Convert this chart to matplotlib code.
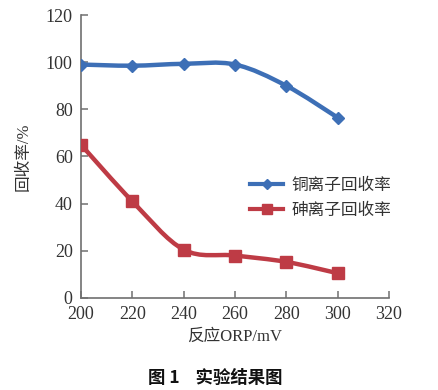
import matplotlib.pyplot as plt
import numpy as np
from matplotlib.path import Path
from matplotlib.patches import PathPatch
from matplotlib.lines import Line2D

# ORP values and recovery rates
orp = [200, 220, 240, 260, 280, 300]
cu_rate = [99, 98.5, 99.3, 99, 90, 76.5]
as_rate = [65, 41, 20.5, 18, 15.3, 10.5]
names = ['铜离子回收率', '砷离子回收率']
xticks = [200, 220, 240, 260, 280, 300, 320]
yticks = [0, 20, 40, 60, 80, 100, 120]

blue = '#3d6fb6'
red = '#be3b45'
serif = ['Liberation Serif', 'DejaVu Serif']
mixed = ['Liberation Serif', 'Noto Sans CJK SC', 'DejaVu Sans']
cjk = ['Noto Sans CJK SC', 'DejaVu Sans']


def smooth_path(x, y, t=1 / 6):
    # Excel-like smoothed line: cardinal spline as cubic Bezier segments
    x = np.asarray(x, float)
    y = np.asarray(y, float)
    verts = [(x[0], y[0])]
    codes = [Path.MOVETO]
    n = len(x)
    for i in range(n - 1):
        i0 = max(i - 1, 0)
        i3 = min(i + 2, n - 1)
        c1 = (x[i] + (x[i + 1] - x[i0]) * t, y[i] + (y[i + 1] - y[i0]) * t)
        c2 = (x[i + 1] - (x[i3] - x[i]) * t, y[i + 1] - (y[i3] - y[i]) * t)
        verts += [c1, c2, (x[i + 1], y[i + 1])]
        codes += [Path.CURVE4] * 3
    return Path(verts, codes)


fig = plt.figure(figsize=(4.39, 3.90), dpi=100)
ax = fig.add_axes([0.1845, 0.236, 0.7015, 0.7255])

for ys, col, mk, ms in [(cu_rate, blue, 'D', 6), (as_rate, red, 's', 8.5)]:
    ax.add_patch(PathPatch(smooth_path(orp, ys), fill=False, edgecolor=col,
                           lw=3.2, capstyle='round', joinstyle='round', zorder=2))
    ax.plot(orp, ys, ls='none', marker=mk, ms=ms, color=col, zorder=3)

ax.set_xlim(200, 320)
ax.set_ylim(0, 120)
ax.set_xticks(xticks)
ax.set_yticks(yticks)
for s in ['top', 'right']:
    ax.spines[s].set_visible(False)
for s in ['left', 'bottom']:
    ax.spines[s].set_color('#707070')
    ax.spines[s].set_linewidth(1.2)
ax.tick_params(direction='in', length=5, width=1.1, color='#707070',
               labelsize=13, labelcolor='#333333', pad=6)
for lab in ax.get_xticklabels() + ax.get_yticklabels():
    lab.set_family(serif)

ax.set_ylabel('回收率/%', family=mixed, fontsize=12, color='#333333', labelpad=10)
ax.set_xlabel('反应ORP/mV', family=mixed, fontsize=12, color='#333333', labelpad=4)

handles = [Line2D([], [], color=blue, lw=3, marker='D', ms=5),
           Line2D([], [], color=red, lw=3, marker='s', ms=7)]
leg = ax.legend(handles, names, loc='upper left', bbox_to_anchor=(0.50, 0.48),
                frameon=False, prop={'family': cjk, 'size': 12}, handlelength=2.0,
                labelspacing=0.45, handletextpad=0.5)
for t in leg.get_texts():
    t.set_color('#333333')

fig.text(0.49, 0.03, '图 1    实验结果图', ha='center', va='center',
         family=cjk, fontsize=12.5, fontweight='bold', color='#111111')

fig.savefig('out.png', dpi=100)
